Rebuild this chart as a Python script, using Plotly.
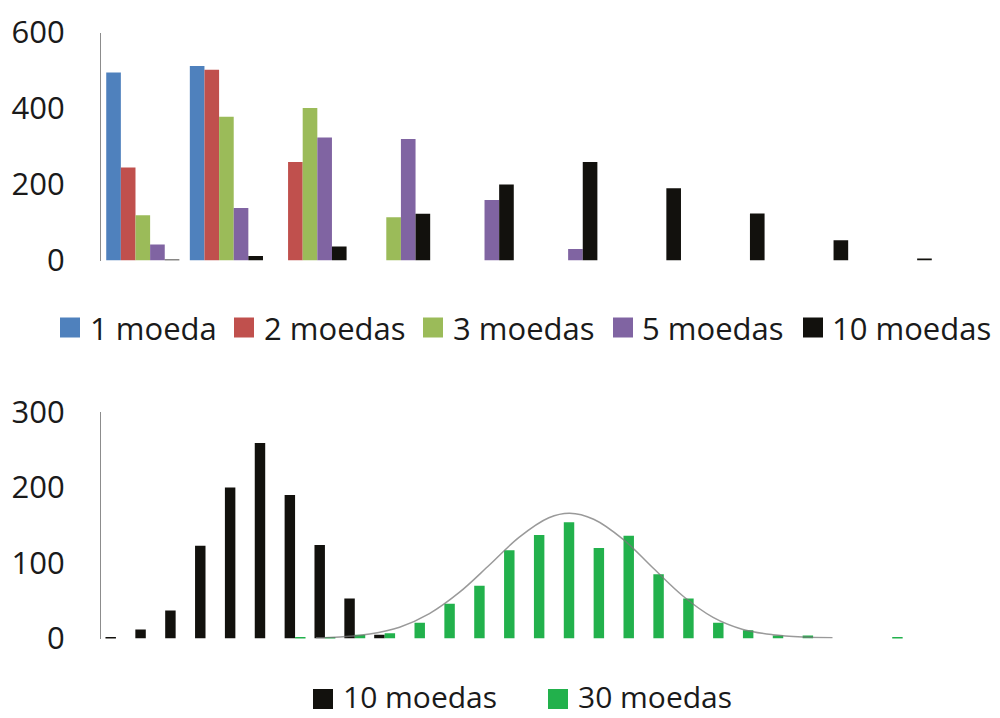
import plotly.graph_objects as go

# ---- data: coin-toss frequencies (1000 throws) ----
top_categories = list(range(10))
one_coin = [495, 512, 0, 0, 0, 0, 0, 0, 0, 0]
two_coins = [245, 502, 259, 0, 0, 0, 0, 0, 0, 0]
three_coins = [119, 378, 401, 114, 0, 0, 0, 0, 0, 0]
five_coins = [42, 138, 324, 320, 159, 30, 0, 0, 0, 0]
ten_coins = [2, 12, 37, 123, 200, 259, 190, 124, 53, 5]

bottom_categories = list(range(28))
ten_coins_full = ten_coins + [0] * 18
thirty_coins = [0, 0, 0, 0, 0, 0, 1, 1, 5, 7, 21, 46, 70, 117, 137, 154,
                120, 136, 85, 53, 21, 11, 4, 4, 0, 0, 1, 0]

# fitted normal curve over the 30-coin distribution
curve_x = [6.7, 7.5, 8.5, 9.5, 10.5, 11.5, 12.5, 13.5, 14.5, 15.2,
           16, 17, 18, 19, 20, 21, 22, 23, 24]
curve_y = [1, 2, 6, 15, 33, 61, 97, 134, 160, 166,
           158, 131, 93, 56, 28, 12, 5, 2, 1]

top_names = ["1 moeda", "2 moedas", "3 moedas", "5 moedas", "10 moedas"]
top_series = [one_coin, two_coins, three_coins, five_coins, ten_coins]
top_colors = ["#4F81BD", "#C0504D", "#9BBB59", "#8064A2", "#12110D"]
BLACK = "#12110D"
GREEN = "#22B14C"

FONT = "Open Sans"
TXT = "#1a1a1a"

fig = go.Figure()

# top chart: five series grouped per category
bw = 0.175
for k, (name, vals, col) in enumerate(zip(top_names, top_series, top_colors)):
    fig.add_trace(go.Bar(
        x=top_categories, y=vals, name=name, width=bw,
        offset=-2.5 * bw + k * bw, marker=dict(color=col, line=dict(width=0)),
        xaxis="x", yaxis="y", showlegend=False))

# bottom chart: 10 vs 30 coins
bw2 = 0.35
fig.add_trace(go.Bar(x=bottom_categories, y=ten_coins_full, name="10 moedas",
                     width=bw2, offset=-bw2, marker=dict(color=BLACK, line=dict(width=0)),
                     xaxis="x2", yaxis="y2", showlegend=False))
fig.add_trace(go.Bar(x=bottom_categories, y=thirty_coins, name="30 moedas",
                     width=bw2, offset=0, marker=dict(color=GREEN, line=dict(width=0)),
                     xaxis="x2", yaxis="y2", showlegend=False))
fig.add_trace(go.Scatter(x=curve_x, y=curve_y, mode="lines",
                         line=dict(color="rgba(120,120,120,0.75)", width=1.5, shape="spline"),
                         xaxis="x2", yaxis="y2", showlegend=False, hoverinfo="skip"))

x_dom = [0.101, 0.937]
yax = dict(showgrid=False, zeroline=False, showline=True, linecolor="#8c8c8c",
           linewidth=1, ticks="", ticklabelstandoff=29, automargin=False,
           tickfont=dict(family=FONT, size=31, color=TXT))
xax = dict(showgrid=False, zeroline=False, showline=False, showticklabels=False,
           ticks="", automargin=False)

fig.update_layout(
    width=1000, height=718,
    margin=dict(l=0, r=0, t=0, b=0, autoexpand=False),
    paper_bgcolor="white", plot_bgcolor="white",
    barmode="overlay",
    xaxis=dict(domain=x_dom, range=[-0.5, 9.5], anchor="y", **xax),
    yaxis=dict(domain=[1 - 260.5 / 718, 1 - 32.5 / 718], range=[0, 600],
               tickvals=[0, 200, 400, 600], anchor="x", **yax),
    xaxis2=dict(domain=x_dom, range=[-0.5, 27.5], anchor="y2", **xax),
    yaxis2=dict(domain=[1 - 638.5 / 718, 1 - 412 / 718], range=[0, 300],
                tickvals=[0, 100, 200, 300], anchor="x2", **yax),
)

# legends drawn as colour swatches with text labels
def legend_swatch(x_sq, y_mid, color):
    fig.add_shape(type="rect", xref="paper", yref="paper",
                  x0=x_sq / 1000, x1=(x_sq + 20) / 1000,
                  y0=1 - (y_mid + 10) / 718, y1=1 - (y_mid - 10) / 718,
                  fillcolor=color, line=dict(width=0))

def legend_text(x_txt, y, label, size, yanchor):
    fig.add_annotation(x=x_txt / 1000, y=y, xref="paper", yref="paper",
                       text=label, showarrow=False, xanchor="left", yanchor=yanchor,
                       borderpad=0, font=dict(family=FONT, size=size, color=TXT))

top_legend_sq = [60, 234, 423, 613, 803]
top_legend_txt = [89, 263, 452, 641, 831]
for name, col, xs, xt in zip(top_names, top_colors, top_legend_sq, top_legend_txt):
    legend_swatch(xs, 327.5, col)
    legend_text(xt, 1 - 327.5 / 718, name, 31, "middle")

legend_swatch(313, 699, BLACK)
legend_swatch(548, 699, GREEN)
legend_text(342, 0, "10 moedas", 30, "bottom")
legend_text(577, 0, "30 moedas", 30, "bottom")

fig.write_html("out.html")
